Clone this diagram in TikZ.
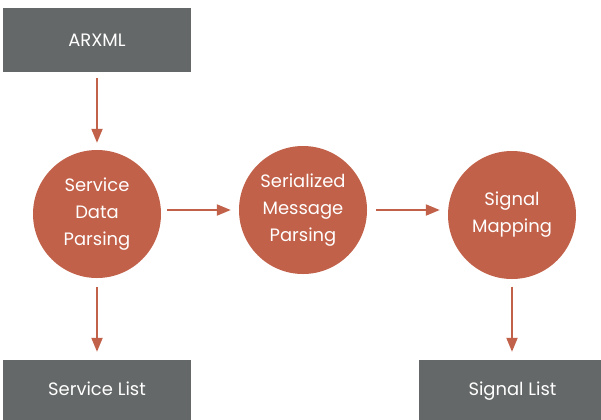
\documentclass[tikz,border=0pt]{standalone}
\usepackage{fontspec}
\setmainfont{Poppins}
\usetikzlibrary{arrows.meta}
\definecolor{boxgray}{HTML}{656868}
\definecolor{rust}{HTML}{C26149}
\tikzset{
  graybox/.style={rectangle, fill=boxgray, draw=none, minimum width=188bp, minimum height=64bp, inner sep=0pt},
  boxlabel/.style={anchor=base, inner sep=0pt, text=white, font=\fontsize{18}{27}\selectfont},
  stepcircle/.style={circle, fill=rust, draw=none, minimum size=128bp, inner sep=0pt, text=white, align=center, font=\fontsize{18}{27}\selectfont},
  arr/.style={draw=rust, line width=2bp, -{Triangle[length=14bp,width=11bp]}}
}
\begin{document}
\begin{tikzpicture}[x=1bp,y=-1bp]
\useasboundingbox (0,0) rectangle (601,419);
\begin{scope}
\clip (0,0) rectangle (601,419);
\node[graybox] (arxml) at (97,40) {};
\node[boxlabel] (arxmlt) at (97,46) {ARXML};
\node[stepcircle] (c1) at (97,214) {Service\\Data\\Parsing};
\node[stepcircle] (c2) at (303,210) {Serialized\\Message\\Parsing};
\node[stepcircle] (c3) at (512,215) {Signal\\Mapping};
\node[graybox] (slist) at (97,392) {};
\node[graybox] (siglist) at (512.5,392) {};
\node[boxlabel] (slistt) at (97,395) {Service List};
\node[boxlabel] (siglistt) at (512.5,395) {Signal List};
\end{scope}
\draw[arr, shorten <=6bp, shorten >=7bp] (arxml.south) -- (c1.north);
\draw[arr, shorten <=6bp, shorten >=8bp] (c1.east |- c2.center) -- (c2.west);
\draw[arr, shorten <=9bp, shorten >=8bp] (c2.east) -- (c2.center -| c3.west);
\draw[arr, shorten <=9bp, shorten >=8bp] (c1.south) -- (slist.north);
\draw[arr, shorten <=7.5bp, shorten >=8bp] (c3.south) -- (c3.south |- siglist.north);
\end{tikzpicture}
\end{document}
